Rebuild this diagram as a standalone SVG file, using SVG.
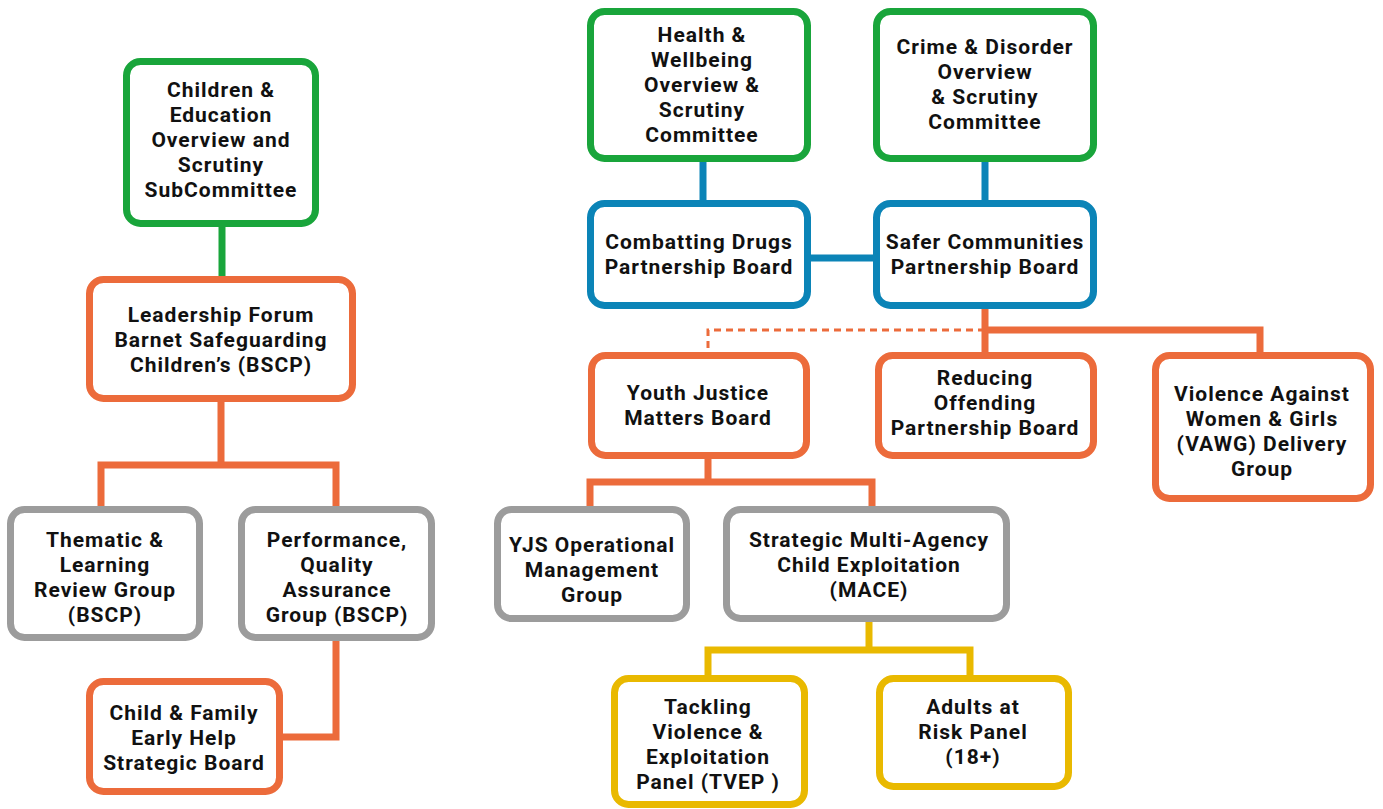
<svg xmlns="http://www.w3.org/2000/svg" width="1383" height="809" viewBox="0 0 1383 809">
<style>
.box{fill:#fff;stroke-width:7}
.g{stroke:#19a53b}.o{stroke:#ec6b3b}.b{stroke:#0b84b7}.gr{stroke:#9c9c9c}.y{stroke:#e9b900}
.c{fill:none;stroke-width:7}
.d{fill:none;stroke:#ec6b3b;stroke-width:3;stroke-dasharray:7 5}
text{font-family:Roboto,"Liberation Sans",sans-serif;font-weight:bold;font-size:21px;letter-spacing:1px;fill:#111;text-anchor:middle}
</style>
<rect width="1383" height="809" fill="#fff"/>
<g id="connectors">
<path class="c g" d="M222 226V277"/>
<path class="c o" d="M221 401V465M101 509V465H336V509M336 641V737H282"/>
<path class="c b" d="M703 161V201M985 161V201M810 258H874"/>
<path class="c o" d="M985 308V353M985 330H1260V353"/>
<path class="d" d="M985 330H708V353"/>
<path class="c o" d="M708 458V482M590 507V482H872V507"/>
<path class="c y" d="M869 621V650M708 676V650H970V676"/>
</g>
<g id="n1"><rect class="box g" x="126.5" y="61.5" width="189" height="162" rx="14"/>
<text x="221" y="97">Children &amp;<tspan x="221" dy="25">Education</tspan><tspan x="221" dy="25">Overview and</tspan><tspan x="221" dy="25">Scrutiny</tspan><tspan x="221" dy="25">SubCommittee</tspan></text></g>
<g id="n2"><rect class="box o" x="89.5" y="279.5" width="263" height="119" rx="14"/>
<text x="221" y="322">Leadership Forum<tspan x="221" dy="25">Barnet Safeguarding</tspan><tspan x="221" dy="25">Children’s (BSCP)</tspan></text></g>
<g id="n3"><rect class="box gr" x="10.5" y="509.5" width="189" height="128" rx="14"/>
<text x="105" y="547">Thematic &amp;<tspan x="105" dy="25">Learning</tspan><tspan x="105" dy="25">Review Group</tspan><tspan x="105" dy="25">(BSCP)</tspan></text></g>
<g id="n4"><rect class="box gr" x="241.5" y="509.5" width="190" height="128" rx="14"/>
<text x="337" y="547">Performance,<tspan x="337" dy="25">Quality</tspan><tspan x="337" dy="25">Assurance</tspan><tspan x="337" dy="25">Group (BSCP)</tspan></text></g>
<g id="n5"><rect class="box o" x="89.5" y="681.5" width="190" height="110" rx="14"/>
<text x="184" y="720">Child &amp; Family<tspan x="184" dy="25">Early Help</tspan><tspan x="184" dy="25">Strategic Board</tspan></text></g>
<g id="n6"><rect class="box g" x="590.5" y="11.5" width="217" height="147" rx="14"/>
<text x="702" y="42">Health &amp;<tspan x="702" dy="25">Wellbeing</tspan><tspan x="702" dy="25">Overview &amp;</tspan><tspan x="702" dy="25">Scrutiny</tspan><tspan x="702" dy="25">Committee</tspan></text></g>
<g id="n7"><rect class="box g" x="876.5" y="11.5" width="217" height="147" rx="14"/>
<text x="985" y="54">Crime &amp; Disorder<tspan x="985" dy="25">Overview</tspan><tspan x="985" dy="25">&amp; Scrutiny</tspan><tspan x="985" dy="25">Committee</tspan></text></g>
<g id="n8"><rect class="box b" x="590.5" y="203.5" width="217" height="102" rx="14"/>
<text x="699" y="249">Combatting Drugs<tspan x="699" dy="25">Partnership Board</tspan></text></g>
<g id="n9"><rect class="box b" x="876.5" y="203.5" width="217" height="102" rx="14"/>
<text x="985" y="249">Safer Communities<tspan x="985" dy="25">Partnership Board</tspan></text></g>
<g id="n10"><rect class="box o" x="591.5" y="355.5" width="215" height="100" rx="14"/>
<text x="698" y="400">Youth Justice<tspan x="698" dy="25">Matters Board</tspan></text></g>
<g id="n11"><rect class="box o" x="878.5" y="355.5" width="215" height="100" rx="14"/>
<text x="985" y="385">Reducing<tspan x="985" dy="25">Offending</tspan><tspan x="985" dy="25">Partnership Board</tspan></text></g>
<g id="n12"><rect class="box o" x="1155.5" y="355.5" width="215" height="143" rx="14"/>
<text x="1262" y="401">Violence Against<tspan x="1262" dy="25">Women &amp; Girls</tspan><tspan x="1262" dy="25">(VAWG) Delivery</tspan><tspan x="1262" dy="25">Group</tspan></text></g>
<g id="n13"><rect class="box gr" x="497.5" y="509.5" width="189" height="109" rx="14"/>
<text x="592" y="552">YJS Operational<tspan x="592" dy="25">Management</tspan><tspan x="592" dy="25">Group</tspan></text></g>
<g id="n14"><rect class="box gr" x="726.5" y="509.5" width="280" height="109" rx="14"/>
<text x="869" y="547">Strategic Multi-Agency<tspan x="869" dy="25">Child Exploitation</tspan><tspan x="869" dy="25">(MACE)</tspan></text></g>
<g id="n15"><rect class="box y" x="614.5" y="678.5" width="190" height="126" rx="14"/>
<text x="708" y="714">Tackling<tspan x="708" dy="25">Violence &amp;</tspan><tspan x="708" dy="25">Exploitation</tspan><tspan x="708" dy="25">Panel (TVEP )</tspan></text></g>
<g id="n16"><rect class="box y" x="879.5" y="678.5" width="189" height="108" rx="14"/>
<text x="973" y="714">Adults at<tspan x="973" dy="25">Risk Panel</tspan><tspan x="973" dy="25">(18+)</tspan></text></g>
</svg>
